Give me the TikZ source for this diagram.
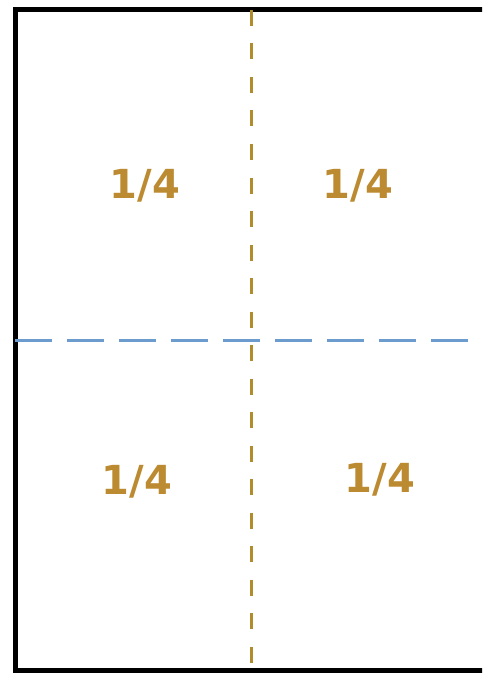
\documentclass[tikz,border=0pt]{standalone}
\usepackage{fontspec}
\setmainfont{DejaVu Sans}
\usepackage{tikz}
\usetikzlibrary{positioning}
\definecolor{quartergold}{RGB}{188,138,48}
\definecolor{foldgold}{RGB}{176,140,44}
\definecolor{foldblue}{RGB}{108,156,206}

\begin{document}
\begin{tikzpicture}[
    x=1pt, y=-1pt,
    quarter/.style={font=\bfseries\fontsize{40}{44}\selectfont, text=quartergold, inner sep=0pt},
    frame/.style={draw=black, line width=5pt},
    vfold/.style={draw=foldgold, line width=3pt, dash pattern=on 16pt off 17.5pt},
    hfold/.style={draw=foldblue, line width=3pt, dash pattern=on 37pt off 15pt}
]
    \useasboundingbox (0,0) rectangle (482,674);
    \clip (0,0) rectangle (482,674);

    % Sheet
    \coordinate (tl) at (15.5,10);
    \coordinate (br) at (492,670.5);
    \draw[frame] (tl) rectangle (br);

    % Folds
    \coordinate (vtop) at (251,10);
    \coordinate (vbot) at (251,670);
    \coordinate (hleft) at (15,340);
    \coordinate (hright) at (482,340);
    \draw[hfold] (hleft) -- (hright);
    \draw[vfold] (vtop) -- (vbot);

    % Quarters
    \node[quarter] (q1) at (145,186) {1/4};
    \node[quarter] (q2) at (358,186) {1/4};
    \node[quarter] (q3) at (137,482) {1/4};
    \node[quarter] (q4) at (380,480) {1/4};
\end{tikzpicture}
\end{document}
